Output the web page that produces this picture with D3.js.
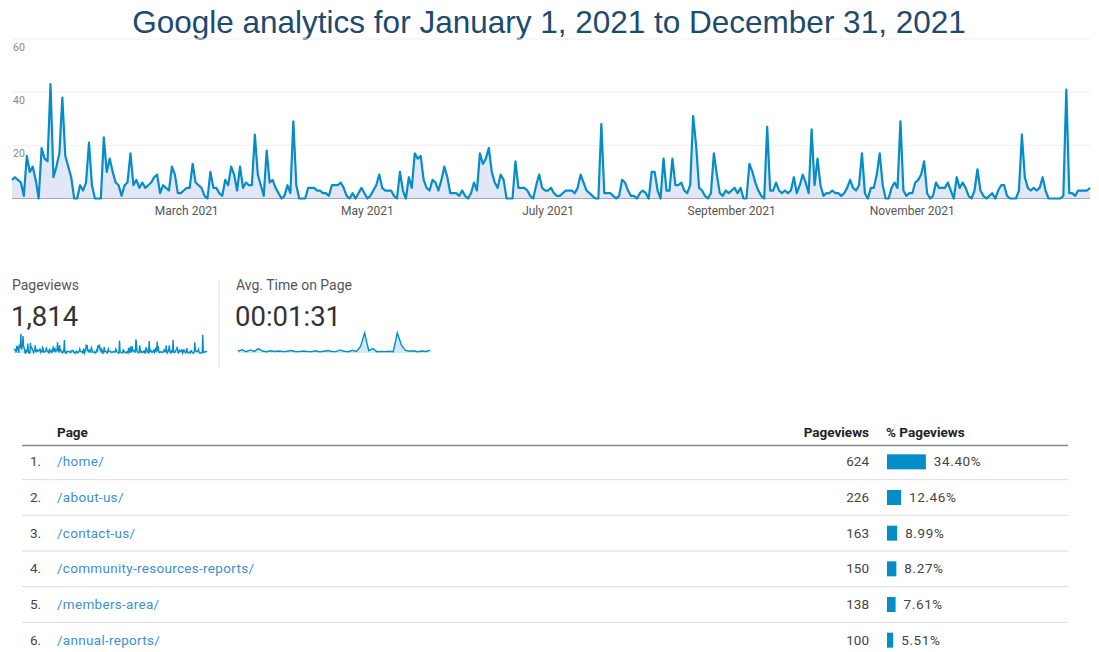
<!DOCTYPE html>
<html><head><meta charset="utf-8">
<script src="https://cdn.jsdelivr.net/npm/d3@7"></script>
<style>body{margin:0;background:#fff;} svg{display:block;}</style>
</head><body><svg id="c" width="1099" height="652"></svg>
<script>
// ---- data ----
const chartTitle = "Google analytics for January 1, 2021 to December 31, 2021";
const pageviewsDaily = [
7,8,7,6,1,16,10,12,7,0,
19,15,14,43,8,12,17,38,16,12,
8,0,0,5,3,6,21,5,0,0,
0,23,10,15,10,6,5,1,5,6,
17,5,7,4,6,4,5,6,8,9,
2,5,4,3,12,9,2,2,3,4,
4,13,6,5,4,1,0,10,4,4,
2,1,7,5,12,9,3,12,4,6,
5,5,24,9,5,1,18,6,7,4,
2,0,1,5,2,29,5,0,0,0,
4,4,4,3,3,2,2,1,5,5,
5,6,4,1,0,2,0,2,4,2,
0,1,3,5,9,4,3,3,3,1,
0,10,3,0,8,4,17,15,16,7,
4,3,7,6,3,7,12,8,2,2,
2,1,3,1,0,2,6,3,17,13,
15,19,10,6,4,9,7,0,0,0,
14,4,4,4,3,1,0,5,9,4,3,3,
4,2,1,1,2,3,3,3,2,4,
9,6,3,2,1,0,0,28,2,2,
2,1,0,1,7,6,3,1,1,0,
2,3,2,0,10,10,3,0,15,3,
3,15,5,5,6,3,2,5,31,20,
4,3,1,0,2,17,9,2,1,3,
2,3,4,2,4,0,0,13,10,6,
3,1,0,27,3,3,6,3,2,3,
2,3,8,2,5,9,6,2,26,5,
15,5,1,2,2,3,2,2,1,2,
4,7,4,3,5,17,2,0,4,4,
9,17,5,0,0,4,6,4,29,3,1,2,
2,6,7,9,14,2,0,1,6,4,
4,4,6,3,0,8,4,6,4,1,
0,3,11,3,1,0,1,2,0,3,
5,5,1,0,0,0,3,24,8,4,
3,4,3,4,8,3,0,0,0,0,
0,1,41,2,2,1,3,3,3,3,4
];
const yTickValues = [20, 40, 60];
const monthTickMonths = [2, 4, 6, 8, 10];
const monthTickLabels = ["March 2021", "May 2021", "July 2021", "September 2021", "November 2021"];

const summaryLabels = ["Pageviews", "Avg. Time on Page"];
const summaryValues = ["1,814", "00:01:31"];
// average time on page (seconds), coarse periods across the year
const avgTimeSpark = [80,150,60,140,70,200,90,60,100,70,90,60,80,110,70,60,90,70,60,100,60,80,110,70,
                      60,130,80,60,120,70,300,900,100,200,60,70,60,80,60,900,350,120,80,100,60,90,70,120];

const tableHeaders = ["Page", "Pageviews", "% Pageviews"];
const pages = ["/home/", "/about-us/", "/contact-us/", "/community-resources-reports/", "/members-area/", "/annual-reports/"];
const pageViews = [624, 226, 163, 150, 138, 100];
const pagePct = [34.40, 12.46, 8.99, 8.27, 7.61, 5.51];

// ---- drawing ----
const svg = d3.select("#c");
const GA_FONT = "Roboto, 'Liberation Sans', Arial, sans-serif";
const BLUE = "#058DC7";

svg.append("text")
  .attr("x", 549).attr("y", 33)
  .attr("text-anchor", "middle")
  .attr("font-family", "'Liberation Sans', Arial, Helvetica, sans-serif")
  .attr("font-size", 31.5)
  .attr("fill", "#1d4a6d")
  .text(chartTitle);

// main chart
const dates = pageviewsDaily.map((v, i) => new Date(Date.UTC(2021, 0, 1 + i)));
const x = d3.scaleUtc().domain([dates[0], dates[dates.length - 1]]).range([12, 1090]);
const y = d3.scaleLinear().domain([0, 60]).range([198.5, 39]);

const g = svg.append("g");
g.selectAll("line.grid").data(yTickValues).join("line")
  .attr("class", "grid")
  .attr("x1", 12).attr("x2", 1090)
  .attr("y1", d => y(d)).attr("y2", d => y(d))
  .attr("stroke", "#efefef").attr("stroke-width", 1);

g.selectAll("text.ylab").data(yTickValues).join("text")
  .attr("class", "ylab")
  .attr("x", 13).attr("y", d => y(d) + 12)
  .attr("font-family", GA_FONT).attr("font-size", 10.5)
  .attr("fill", "#888")
  .text(d => d);

const area = d3.area()
  .x((d, i) => x(dates[i])).y0(y(0)).y1(d => y(d));
const line = d3.line()
  .x((d, i) => x(dates[i])).y(d => y(d));

g.append("path").datum(pageviewsDaily)
  .attr("d", area).attr("fill", "#e3e6f4");
g.append("line")
  .attr("x1", 12).attr("x2", 1090).attr("y1", y(0)).attr("y2", y(0))
  .attr("stroke", "#a6a6bc").attr("stroke-width", 1.2);
g.append("path").datum(pageviewsDaily)
  .attr("d", line).attr("fill", "none")
  .attr("stroke", BLUE).attr("stroke-width", 2.2)
  .attr("stroke-linejoin", "round");

g.selectAll("text.xlab").data(monthTickMonths).join("text")
  .attr("class", "xlab")
  .attr("x", m => x(new Date(Date.UTC(2021, m, 1))))
  .attr("y", 215)
  .attr("text-anchor", "middle")
  .attr("font-family", GA_FONT).attr("font-size", 12)
  .attr("fill", "#555")
  .text((m, i) => monthTickLabels[i]);

// summary cards
const cardX = [12, 236];
summaryLabels.forEach((lab, i) => {
  svg.append("text").attr("x", cardX[i]).attr("y", 290)
    .attr("font-family", GA_FONT).attr("font-size", 14).attr("fill", "#555").text(lab);
  svg.append("text").attr("x", cardX[i] - 1).attr("y", 326)
    .attr("font-family", GA_FONT).attr("font-size", 27.5).attr("fill", "#333").text(summaryValues[i]);
});
svg.append("line").attr("x1", 219).attr("x2", 219).attr("y1", 280).attr("y2", 368)
  .attr("stroke", "#e2e2e2");

// pageviews sparkline
const sx1 = d3.scaleLinear().domain([0, pageviewsDaily.length - 1]).range([14, 207]);
const sy1 = d3.scaleLinear().domain([0, 45]).range([353, 333]);
svg.append("path").datum(pageviewsDaily)
  .attr("d", d3.area().x((d, i) => sx1(i)).y0(sy1(0)).y1(d => sy1(d)))
  .attr("fill", "#d3e8f5");
svg.append("path").datum(pageviewsDaily)
  .attr("d", d3.line().x((d, i) => sx1(i)).y(d => sy1(d)))
  .attr("fill", "none").attr("stroke", BLUE).attr("stroke-width", 1.4);

// avg time sparkline
const sx2 = d3.scaleLinear().domain([0, avgTimeSpark.length - 1]).range([238, 430]);
const sy2 = d3.scaleLinear().domain([0, 900]).range([353, 333]);
svg.append("path").datum(avgTimeSpark)
  .attr("d", d3.area().x((d, i) => sx2(i)).y0(sy2(0)).y1(d => sy2(d)))
  .attr("fill", "#d3e8f5");
svg.append("path").datum(avgTimeSpark)
  .attr("d", d3.line().x((d, i) => sx2(i)).y(d => sy2(d)))
  .attr("fill", "none").attr("stroke", BLUE).attr("stroke-width", 1.4);

// table
const rowY = d3.scaleBand().domain(d3.range(pages.length)).range([444, 658]);
const barW = d3.scaleLinear().domain([0, 100]).range([0, 113]);
const T = svg.append("g").attr("font-family", GA_FONT).attr("font-size", 13.5);

T.append("text").attr("x", 57).attr("y", 437).attr("font-weight", "bold").attr("fill", "#222").text(tableHeaders[0]);
T.append("text").attr("x", 869).attr("y", 437).attr("text-anchor", "end").attr("font-weight", "bold").attr("fill", "#222").text(tableHeaders[1]);
T.append("text").attr("x", 886).attr("y", 437).attr("font-weight", "bold").attr("fill", "#222").text(tableHeaders[2]);
T.append("line").attr("x1", 22).attr("x2", 1068).attr("y1", 445.5).attr("y2", 445.5)
  .attr("stroke", "#888").attr("stroke-width", 1.5);

const rows = T.selectAll("g.row").data(pages).join("g").attr("class", "row");
rows.append("line")
  .attr("x1", 22).attr("x2", 1068)
  .attr("y1", (d, i) => rowY(i) + rowY.bandwidth()).attr("y2", (d, i) => rowY(i) + rowY.bandwidth())
  .attr("stroke", "#dcdcdc");
rows.append("text").attr("x", 30).attr("y", (d, i) => rowY(i) + rowY.bandwidth() / 2 + 4.5)
  .attr("fill", "#444").text((d, i) => (i + 1) + ".");
rows.append("text").attr("x", 57).attr("y", (d, i) => rowY(i) + rowY.bandwidth() / 2 + 4.5)
  .attr("fill", "#3d8fd3").attr("letter-spacing", 0.3).text(d => d);
rows.append("text").attr("x", 869).attr("y", (d, i) => rowY(i) + rowY.bandwidth() / 2 + 4.5)
  .attr("text-anchor", "end").attr("fill", "#444").text((d, i) => pageViews[i]);
rows.append("rect").attr("x", 887)
  .attr("y", (d, i) => rowY(i) + rowY.bandwidth() / 2 - 7.5)
  .attr("width", (d, i) => barW(pagePct[i])).attr("height", 15)
  .attr("fill", BLUE);
rows.append("text")
  .attr("x", (d, i) => 887 + barW(pagePct[i]) + 8)
  .attr("y", (d, i) => rowY(i) + rowY.bandwidth() / 2 + 4.5)
  .attr("fill", "#444").attr("letter-spacing", 0.6).text((d, i) => pagePct[i].toFixed(2) + "%");
</script>
</body></html>
